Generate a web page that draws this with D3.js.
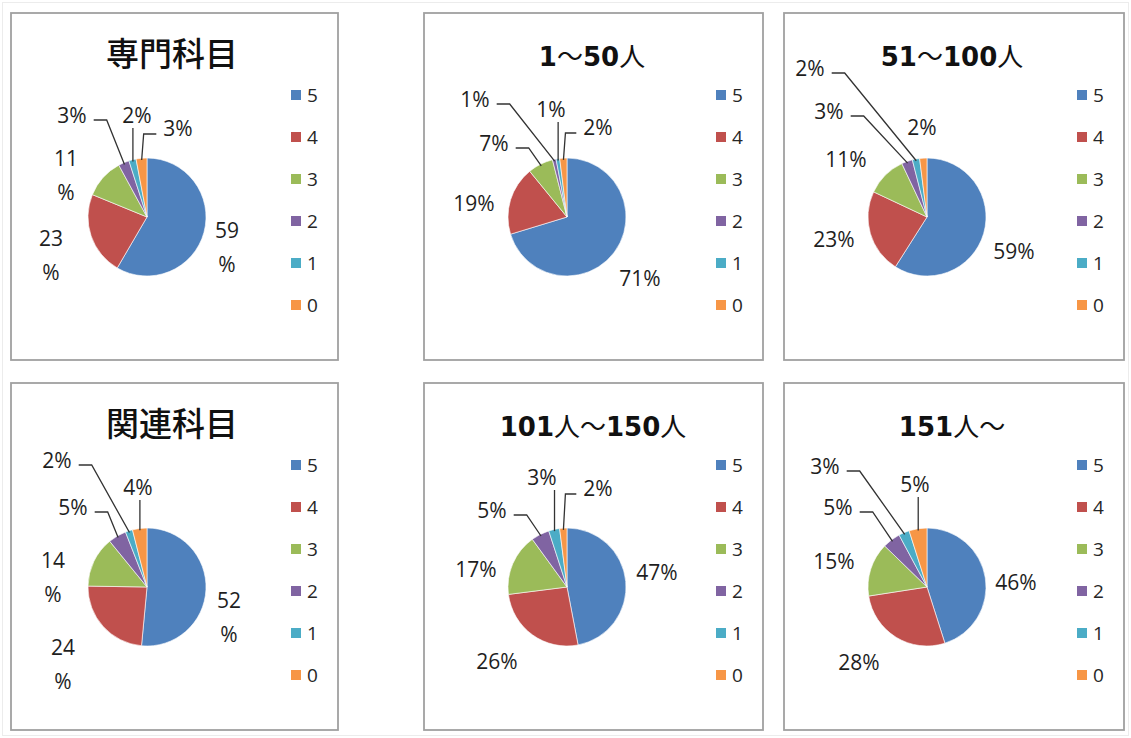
<!DOCTYPE html>
<html lang="ja">
<head>
  <meta charset="UTF-8">
  <title>評価分布</title>
  <script src="https://d3js.org/d3.v7.min.js"></script>
  <style>
    body { margin: 0; background: #fff; }
    svg { display: block; }
  </style>
</head>
<body>
<svg width="1131" height="738"></svg>
<script>
  // 評価の区分（凡例の順）
  const categories = ["5", "4", "3", "2", "1", "0"];
  const titles = ["専門科目", "1～50人", "51～100人", "関連科目", "101人～150人", "151人～"];

  // 各グラフの割合 (%)
  const senmon     = [59, 23, 11, 3, 2, 3];
  const nin1_50    = [71, 19, 7, 1, 1, 2];
  const nin51_100  = [59, 23, 11, 3, 2, 2];
  const kanren     = [52, 24, 14, 5, 2, 4];
  const nin101_150 = [47, 26, 17, 5, 3, 2];
  const nin151     = [46, 28, 15, 5, 3, 5];

  const series = [senmon, nin1_50, nin51_100, kanren, nin101_150, nin151];

  const colors = ["#4F81BD", "#C0504D", "#9BBB59", "#8064A2", "#4BACC6", "#F79646"];

  // レイアウト（枠・円の中心・タイトル位置）
  const panels = [
    {x: 11,  y: 13,  w: 327, h: 347, cx: 136, tx: 161},
    {x: 424, y: 13,  w: 339, h: 347, cx: 143, tx: 168},
    {x: 784, y: 13,  w: 340, h: 347, cx: 143, tx: 168},
    {x: 11,  y: 383, w: 327, h: 347, cx: 136, tx: 161},
    {x: 424, y: 383, w: 339, h: 347, cx: 143, tx: 169},
    {x: 784, y: 383, w: 340, h: 347, cx: 143, tx: 168}
  ];
  const cyOffset = 204;
  const radius = 59;

  // データラベルの位置（円の中心からのずれ, px）
  const labelOffsets = [
    [[80, 30], [-96, 38], [-81, -42], [-75, -102], [-10, -102], [31, -89]],
    [[73, 61], [-93, -14], [-73, -74], [-92, -118], [-16, -108], [31, -90]],
    [[87, 34], [-93, 22], [-81, -58], [-98, -106], [-117, -149], [-5, -90]],
    [[82, 30], [-84, 77], [-94, -10], [-74, -80], [-90, -127], [-9, -100]],
    [[90, -15], [-70, 74], [-91, -18], [-75, -77], [-25, -110], [31, -99]],
    [[89, -5], [-68, 75], [-93, -26], [-89, -80], [-102, -121], [-12, -103]]
  ];
  const wrapLabels = [true, false, false, true, false, false];

  const svg = d3.select("svg");

  // 外側の薄い枠
  svg.append("rect")
    .attr("x", 2.5).attr("y", 2.5).attr("width", 1126).attr("height", 733)
    .attr("fill", "none").attr("stroke", "#ececec");

  const pie = d3.pie().sort(null).value(d => d);
  const arc = d3.arc().innerRadius(0).outerRadius(radius);

  panels.forEach((p, i) => {
    const g = svg.append("g").attr("transform", `translate(${p.x},${p.y})`);

    g.append("rect")
      .attr("x", 0).attr("y", 0).attr("width", p.w).attr("height", p.h)
      .attr("fill", "#fff").attr("stroke", "#a0a0a0").attr("stroke-width", 1.8);

    // タイトル
    const title = titles[i];
    const allCjk = !/[0-9]/.test(title);
    const t = g.append("text")
      .attr("x", p.tx).attr("y", 53)
      .attr("text-anchor", "middle")
      .style("fill", "#111");
    title.match(/[0-9]+|[^0-9]+/g).forEach(run => {
      const isNum = /[0-9]/.test(run);
      t.append("tspan")
        .text(run)
        .style("font-family", isNum ? "'DejaVu Sans', sans-serif" : "'Noto Sans CJK JP', sans-serif")
        .style("font-weight", isNum ? "bold" : (allCjk ? "500" : "normal"))
        .style("font-size", allCjk ? "33px" : "26px");
    });

    // 円グラフ
    const cg = g.append("g").attr("transform", `translate(${p.cx},${cyOffset})`);
    const arcs = pie(series[i]);

    cg.selectAll("path")
      .data(arcs)
      .join("path")
        .attr("d", arc)
        .attr("fill", (d, k) => colors[k])
        .attr("stroke", "#fff")
        .attr("stroke-width", 0.6);

    // データラベル
    arcs.forEach((d, k) => {
      const off = labelOffsets[i][k];
      const txt = d.data + "%";
      const lab = cg.append("text")
        .attr("text-anchor", "middle")
        .style("font-family", "'Open Sans', sans-serif")
        .style("font-size", "21px")
        .style("fill", "#1e1e1e");
      if (wrapLabels[i] && d.data >= 10) {
        lab.append("tspan").attr("x", off[0]).attr("y", off[1] - 17 + 7.5).text(String(d.data));
        lab.append("tspan").attr("x", off[0]).attr("y", off[1] + 17 + 7.5).text("%");
      } else {
        lab.attr("x", off[0]).attr("y", off[1] + 7.5).text(txt);
      }

      // 引き出し線（小さい扇形のみ）
      if (d.data >= 10) return;
      const mid = (d.startAngle + d.endAngle) / 2;
      const ex = Math.sin(mid) * radius * 0.97;
      const ey = -Math.cos(mid) * radius * 0.97;
      const dist = Math.hypot(off[0] - ex, off[1] - ey);
      if (dist < 36) return;
      const w = lab.node().getComputedTextLength();
      let pts;
      if (Math.abs(off[0] - ex) < w / 2 + 2) {
        pts = [[ex, off[1] + 13], [ex, ey]];
      } else if (off[0] < ex) {
        const sx = off[0] + w / 2 + 7;
        const sy = off[1] + 5;
        pts = [[sx, sy], [sx + 13, sy], [ex, ey]];
      } else {
        const sx = off[0] - w / 2 - 7;
        const sy = off[1] + 6;
        pts = [[sx, sy], [ex + 2, sy], [ex, ey]];
      }
      cg.append("path")
        .attr("d", d3.line()(pts))
        .attr("fill", "none")
        .attr("stroke", "#333")
        .attr("stroke-width", 1.3);
    });

    // 凡例
    const legend = g.append("g").attr("transform", `translate(${p.w - 47},82)`);
    categories.forEach((c, k) => {
      const row = legend.append("g").attr("transform", `translate(0,${k * 42})`);
      row.append("rect")
        .attr("x", 0).attr("y", -5).attr("width", 10).attr("height", 10)
        .attr("fill", colors[k]);
      row.append("text")
        .attr("x", 16).attr("y", 7)
        .text(c)
        .style("font-family", "'Open Sans', sans-serif")
        .style("font-size", "19px")
        .style("fill", "#262626");
    });
  });
</script>
</body>
</html>
